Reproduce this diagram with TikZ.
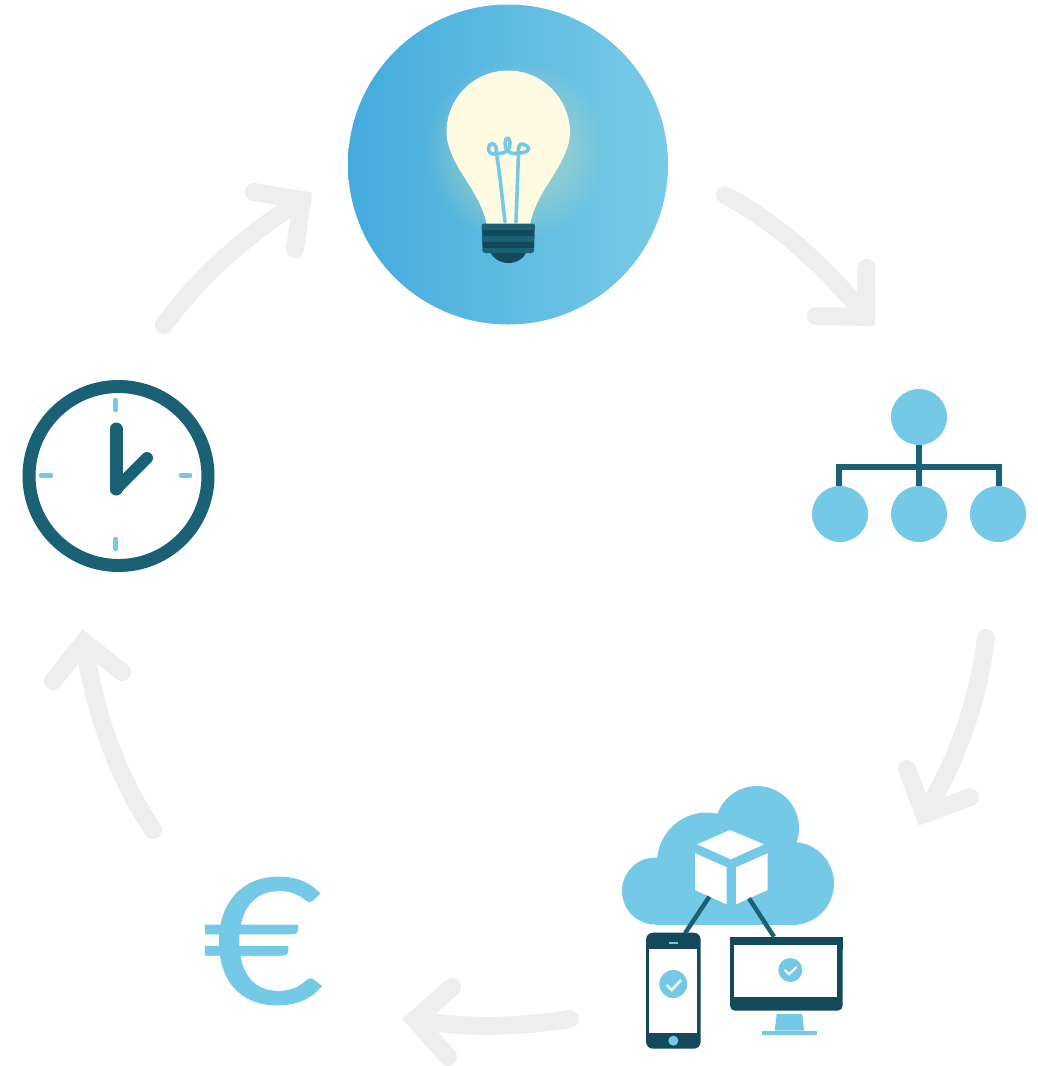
\documentclass[tikz,border=0pt]{standalone}
\usepackage{fontspec}
\newfontfamily\eurofont[FakeBold=0.5]{Lato}
\usetikzlibrary{fadings}
\definecolor{lightb}{HTML}{74CAE6}
\definecolor{teal1}{HTML}{1A6176}
\definecolor{dark1}{HTML}{124A5B}
\definecolor{greyarrow}{HTML}{EEEEEE}
\definecolor{bulbc}{HTML}{FFFBE3}
\definecolor{discl}{HTML}{44ABDD}
\definecolor{discr}{HTML}{78CBE6}
\definecolor{glowc}{HTML}{D8E6B0}
\tikzfading[name=glowfade, inner color=transparent!30, outer color=transparent!100]
\tikzset{
  cyclearrow/.style={draw=greyarrow,line width=18pt,line cap=round,line join=miter,miter limit=10},
  hier/.style={circle,fill=lightb,minimum size=56pt,inner sep=0pt},
  wire/.style={draw=teal1,line width=6pt},
  link/.style={draw=teal1,line width=4.5pt},
  boxface/.style={fill=white},
  tickm/.style={draw=lightb,line width=4.5pt,line cap=round},
  hand/.style={draw=teal1,line width=13pt,line cap=round},
  okdisc/.style={circle,fill=lightb,inner sep=0pt},
  okmark/.style={draw=white,line width=2.4pt},
  filament/.style={draw=lightb,line width=3.6pt,line cap=round,line join=round}
}
\begin{document}
\begin{tikzpicture}[x=1pt,y=-1pt]
\useasboundingbox (0,0) rectangle (1038,1066);
\fill[white] (0,0) rectangle (1038,1066);
% idea disc and bulb
\node[circle,minimum size=320pt,inner sep=0pt,left color=discl,right color=discr] (idea) at (508,164.5) {};
\fill[glowc,path fading=glowfade] (516,150) circle (92);
\fill[bulbc] (487,226) .. controls (481,190) and (447,165) .. (446.5,132)
  .. controls (446.5,98) and (474,70.5) .. (508,70.5)
  .. controls (542,70.5) and (569.5,98) .. (570,132)
  .. controls (569.5,165) and (535,190) .. (530,226) -- cycle;
\draw[filament] (505,222) -- (500,178) -- (496.5,153) .. controls (492,156) and (488,152) .. (488.5,148)
  .. controls (489,143) and (494,142) .. (496,147) .. controls (497,150) and (496,152) .. (496,153)
  .. controls (500,154) and (504,153) .. (507,151) .. controls (504,146) and (505,138) .. (507.5,138)
  .. controls (510.5,138) and (511,146) .. (508,151) .. controls (511,154) and (515,154) .. (518.5,153)
  .. controls (518,149) and (519,145) .. (521,144) .. controls (525,144) and (529,147) .. (528.5,149)
  .. controls (527,152) and (523,153) .. (518.5,153) -- (516,222);
\fill[dark1] (489.5,250) .. controls (492,258) and (500,263) .. (508.3,263) .. controls (517,263) and (525,258) .. (527,250) -- cycle;
\fill[teal1,rounded corners=2.5pt] (481.5,223.5) -- (535,223.5) -- (534,253) -- (482.5,253) -- cycle;
\fill[dark1] (483,230) rectangle (534,236);
\fill[dark1] (483,241.7) rectangle (534,247.7);
% hierarchy
\node[hier] (top) at (919,417) {};
\node[hier] (ch1) at (840,514) {};
\node[hier] (ch2) at (919,514) {};
\node[hier] (ch3) at (998,514) {};
\coordinate (busl) at (839,467);
\coordinate (busr) at (999,467);
\coordinate (busm) at (919,467);
\draw[wire] (top) -- (ch2);
\draw[wire,line join=miter] (ch1.north -| busl) -- (busl) -- (busr) -- (ch3.north -| busr);
% cloud
\node[circle,fill=lightb,minimum size=67pt,inner sep=0pt] (c1) at (655.5,891) {};
\node[circle,fill=lightb,minimum size=100pt,inner sep=0pt] (c2) at (707,862.5) {};
\node[circle,fill=lightb,minimum size=84pt,inner sep=0pt] (c3) at (757,828) {};
\node[circle,fill=lightb,minimum size=83pt,inner sep=0pt] (c4) at (792.5,883.5) {};
\fill[lightb] (655,860) rectangle (793,925);
\fill[lightb] (700,830) rectangle (770,870);
\fill[boxface] (697.3,844.3) -- (730,830) -- (764,844.3) -- (730.7,859.3) -- cycle;
\fill[boxface] (695,853.3) -- (726.7,867.3) -- (726.7,904.3) -- (695,890) -- cycle;
\fill[boxface] (736,867.3) -- (767.7,853.3) -- (767.7,890) -- (736,904.3) -- cycle;
% phone
\fill[dark1,rounded corners=7pt] (646,932.7) rectangle (700.7,1048.7);
\fill[white] (649,948.7) rectangle (697,1033);
\fill[lightb] (668.7,941.7) rectangle (678.3,943.7);
\node[circle,fill=lightb,minimum size=10pt,inner sep=0pt] (btn) at (673.3,1040.7) {};
\node[okdisc,minimum size=28pt] (ok1) at (673.3,984) {};
\draw[okmark] (666.7,985) -- (671.7,990) -- (681,980);
% monitor
\fill[dark1,rounded corners=5pt] (730,945) -- (730,1010.7) -- (842.7,1010.7) -- (842.7,945) -- cycle;
\fill[dark1] (730,937.3) rectangle (842.7,950);
\fill[white] (733.7,945) rectangle (837.3,997.3);
\fill[lightb] (776.7,1014) -- (802.3,1014) -- (804,1030.7) -- (774.7,1030.7) -- cycle;
\fill[lightb] (762,1030.7) rectangle (817,1035);
\node[okdisc,minimum size=24pt] (ok2) at (790.3,970) {};
\draw[okmark,line width=2pt] (784.7,970) -- (789,974.3) -- (796.7,966.7);
% links
\coordinate (lp) at (709.3,896.7);
\coordinate (lpe) at (685,933.3);
\coordinate (lm) at (749,898.3);
\coordinate (lme) at (774,936.7);
\draw[link] (lp) -- (lpe);
\draw[link] (lm) -- (lme);
% euro
\node[inner sep=0pt,text=lightb,font=\eurofont\fontsize{175}{175}\selectfont,xscale=1.2,transform shape] (euro) at (264,941) {€};
% clock
\node[circle,draw=teal1,line width=13pt,fill=white,minimum size=179pt,inner sep=0pt] (clock) at (118.5,476) {};
\coordinate (pivot) at (116,489);
\coordinate (hourend) at (116,429);
\coordinate (minend) at (147,458);
\draw[tickm] (115.5,400) -- (115.5,410);
\draw[tickm] (115.5,539) -- (115.5,549);
\draw[tickm] (41,475.5) -- (51,475.5);
\draw[tickm] (181,475.5) -- (190,475.5);
\draw[hand] (pivot) -- (hourend);
\draw[hand,line width=12pt] (pivot) -- (minend);
% cycle arrows
\coordinate (a1s) at (725,195); \coordinate (a1t) at (866,317);
\coordinate (a2s) at (986,638); \coordinate (a2t) at (924,814);
\coordinate (a3s) at (570,1019); \coordinate (a3t) at (415,1019.5);
\coordinate (a4s) at (153,830); \coordinate (a4t) at (84,642);
\coordinate (a5s) at (164,325); \coordinate (a5t) at (302,200);
\draw[cyclearrow] (a1s) .. controls (775,222) and (825,265) .. (a1t);
\draw[cyclearrow] (866.5,268) -- (a1t) -- (816,316);
\draw[cyclearrow] (a2s) .. controls (978,700) and (958,760) .. (a2t);
\draw[cyclearrow] (907,769) -- (a2t) -- (970,797);
\draw[cyclearrow] (a3s) .. controls (520,1027) and (465,1029) .. (a3t);
\draw[cyclearrow] (452,987) -- (a3t) -- (448,1057);
\draw[cyclearrow] (a4s) .. controls (118,778) and (95,715) .. (a4t);
\draw[cyclearrow] (53,681) -- (a4t) -- (122,672);
\draw[cyclearrow] (a5s) .. controls (200,275) and (250,232) .. (a5t);
\draw[cyclearrow] (254,192) -- (a5t) -- (295,249);
\end{tikzpicture}
\end{document}
